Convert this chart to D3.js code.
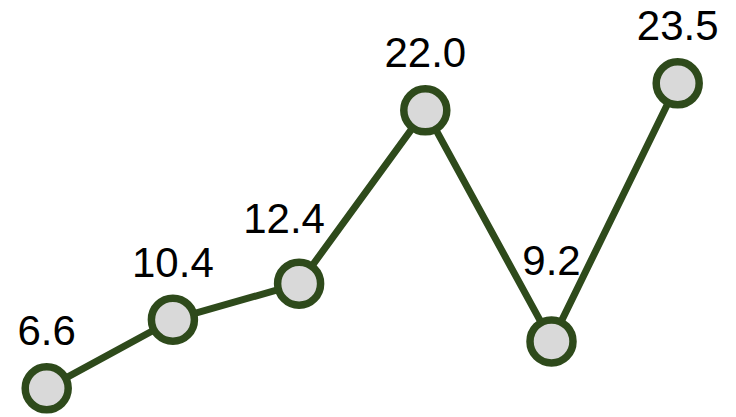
<!DOCTYPE html>
<html><head><meta charset="utf-8">
<script src="https://cdn.jsdelivr.net/npm/d3@7"></script>
<style>html,body{margin:0;padding:0;background:#fff;}svg{display:block;}</style>
</head><body>
<svg id="chart" width="736" height="417"></svg>
<script>
const categories = ["1", "2", "3", "4", "5", "6"];
const values = [6.6, 10.4, 12.4, 22.0, 9.2, 23.5];

const svg = d3.select("#chart");
const x = d3.scalePoint().domain(categories).range([46.7, 677.7]);
const y = d3.scaleLinear().domain([6.6, 23.5]).range([388.3, 83.3]);

const data = categories.map((c, i) => ({c, v: values[i], i}));
const lineColor = "#2e4a1b";

svg.append("path")
  .datum(data)
  .attr("fill", "none")
  .attr("stroke", lineColor)
  .attr("stroke-width", 7)
  .attr("stroke-linejoin", "round")
  .attr("d", d3.line().x(d => x(d.c)).y(d => y(d.v)));

svg.selectAll("circle").data(data).join("circle")
  .attr("cx", d => x(d.c))
  .attr("cy", d => y(d.v))
  .attr("r", 21.5)
  .attr("fill", "#d9d9d9")
  .attr("stroke", lineColor)
  .attr("stroke-width", 7.5);

// label placement: avoid overlapping the line
function labelOffset(i) {
  const n = values.length;
  const hasPrev = i > 0, hasNext = i < n - 1;
  if (hasPrev && hasNext && values[i] < values[i - 1] && values[i] < values[i + 1]) {
    return [0, -66.5];
  }
  if (hasNext) {
    const rise = y(values[i]) - y(values[i + 1]);
    const run = x(categories[i + 1]) - x(categories[i]);
    if (rise / run > 1 && !(hasPrev && values[i - 1] > values[i])) return [-15, -51];
  }
  return [0, -43];
}

svg.selectAll("text.lbl").data(data).join("text")
  .attr("class", "lbl")
  .attr("x", d => x(d.c) + labelOffset(d.i)[0])
  .attr("y", d => y(d.v) + labelOffset(d.i)[1])
  .attr("text-anchor", "middle")
  .attr("font-family", "Liberation Sans, Arial, sans-serif")
  .attr("font-size", 42)
  .attr("fill", "#000")
  .text(d => d.v.toFixed(1));
</script>
</body></html>
